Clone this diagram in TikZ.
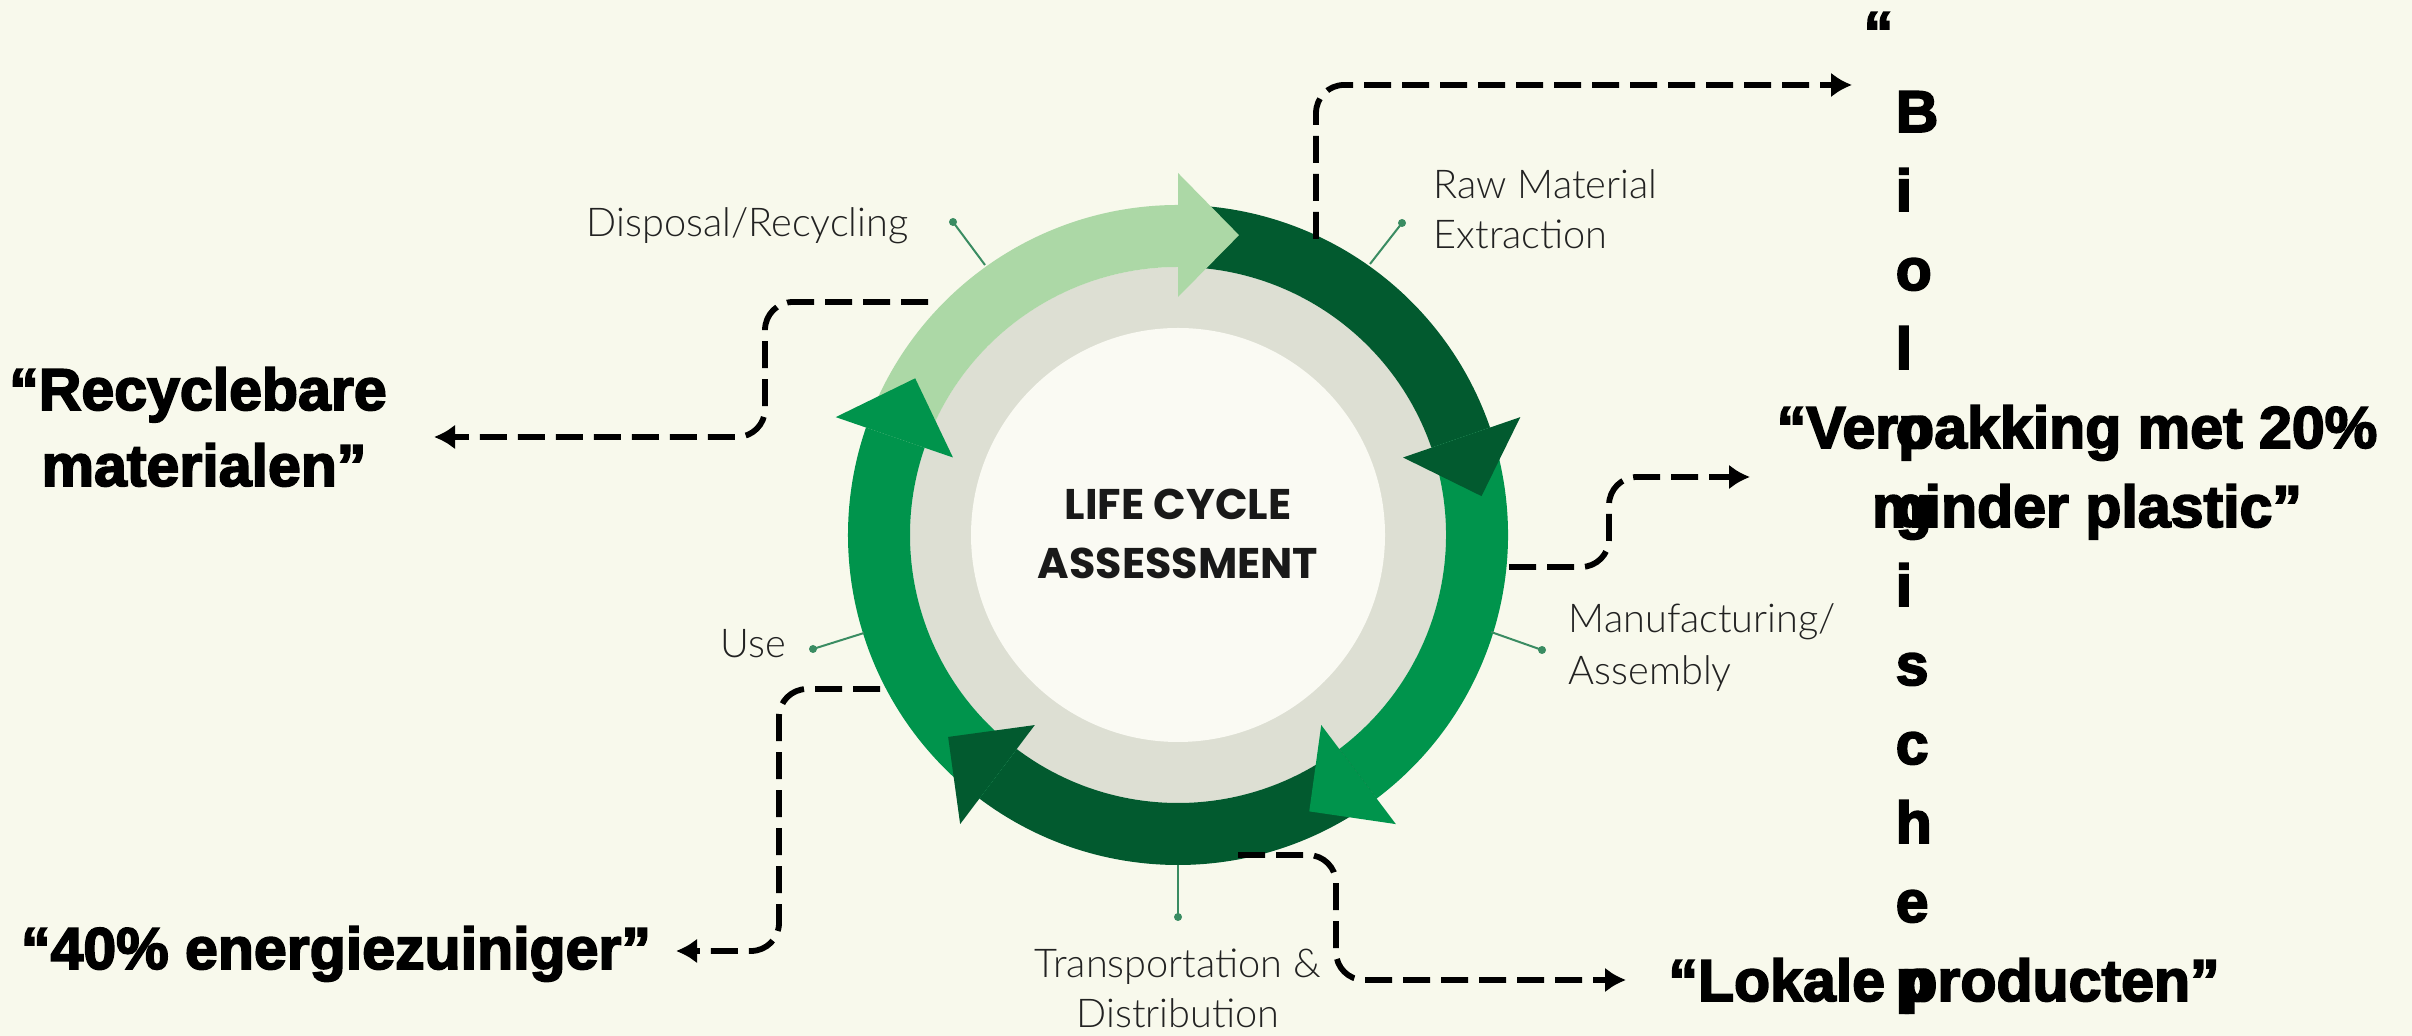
\documentclass[tikz,border=0pt]{standalone}
\usepackage{fontspec}
\usetikzlibrary{arrows.meta,calc}
\newfontfamily\bigfont{Liberation Sans}[BoldFeatures={FakeBold=3}]
\newfontfamily\lblfont{Lato Light}
\newfontfamily\lcafont{Poppins}
\definecolor{bgc}{RGB}{248,249,236}
\definecolor{innerc}{RGB}{250,250,243}
\definecolor{ringc}{RGB}{221,223,211}
\definecolor{lgreen}{RGB}{172,216,166}
\definecolor{dgreen}{RGB}{2,90,47}
\definecolor{mgreen}{RGB}{0,148,76}
\definecolor{leadc}{RGB}{58,140,98}
\definecolor{lblc}{RGB}{34,34,34}
\newcommand\lcaBand[3]{\fill[#1] ($(C)+(#2:330)$) arc[start angle=#2,end angle=#3,radius=330] -- ($(C)+(#3:268)$) arc[start angle=#3,end angle=#2,radius=268] -- cycle;}
\newcommand\lcaHead[3]{\fill[#1] ($(C)+(#2:238)$) -- ($(C)+(#2:362)$) -- ($(C)+(#3:306)$) -- cycle;}
\tikzset{
  bigtxt/.style={font=\bigfont\bfseries\fontsize{16.8pt}{20pt}\selectfont, inner sep=0pt, anchor=base},
  lbl/.style={font=\lblfont\fontsize{11.3pt}{14pt}\selectfont, text=lblc, inner sep=0pt, anchor=base west},
  lcatxt/.style={font=\lcafont\bfseries\fontsize{12.2pt}{15pt}\selectfont, text=black!90, inner sep=0pt, anchor=base},
  lead/.style={draw=leadc, line width=0.2mm},
  conn/.style={draw=black, line width=0.58mm, dash pattern=on 2.7mm off 1.1mm, rounded corners=2.8mm, -{Latex[length=2.1mm,width=2.5mm]}}
}
\begin{document}
\begin{tikzpicture}[x=0.1mm,y=0.1mm]
\useasboundingbox (0,0) rectangle (2412,1036);
\fill[bgc] (0,0) rectangle (2412,1036);
\coordinate (C) at (1178,501);
% rings
\fill[ringc] (C) circle (268);
\fill[innerc] (C) circle (207);
\lcaBand{lgreen}{161}{90}
\lcaBand{dgreen}{90}{19}
\lcaBand{mgreen}{19}{-53}
\lcaBand{dgreen}{-53}{-127}
\lcaBand{mgreen}{-127}{-199}
\lcaHead{lgreen}{90}{78.5}
\lcaHead{dgreen}{19}{7.3}
\lcaHead{mgreen}{-53}{-64.6}
\lcaHead{dgreen}{-127}{-138.7}
\lcaHead{mgreen}{-199}{-210.8}
\node[lcatxt] (lca1) at (1178,516) {LIFE CYCLE};
\node[lcatxt] (lca2) at (1178,457) {ASSESSMENT};
% leaders
\coordinate (rawR) at (1370,772); \coordinate (rawD) at (1402,813);
\coordinate (manR) at (1491,404); \coordinate (manD) at (1542,386);
\coordinate (traR) at (1178,171); \coordinate (traD) at (1178,119);
\coordinate (useR) at (864,403); \coordinate (useD) at (813,387);
\coordinate (disR) at (985,771); \coordinate (disD) at (953,814);
\foreach \r/\d in {rawR/rawD,manR/manD,traR/traD,useR/useD,disR/disD}{
  \draw[lead] (\r) -- (\d);
  \fill[leadc] (\d) circle (4);
}
% labels
\node[lbl] (raw1) at (1433,837) {Raw Material};
\node[lbl] (raw2) at (1433,787) {Extraction};
\node[lbl] (man1) at (1568,403) {Manufacturing/};
\node[lbl] (man2) at (1568,351) {Assembly};
\node[lbl,anchor=base] (tra1) at (1178,58) {Transportation \&};
\node[lbl,anchor=base] (tra2) at (1178,8) {Distribution};
\node[lbl] (use) at (720,378) {Use};
\node[lbl] (dis) at (586,799) {Disposal/Recycling};
% big texts
\node[bigtxt] (rec1) at (198,626) {“Recyclebare};
\node[bigtxt] (rec2) at (204,550) {materialen”};
\node[bigtxt] (ver1) at (2077,588) {“Verpakking met 20\%};
\node[bigtxt] (ver2) at (2087,509) {minder plastic”};
\node[bigtxt] (lok) at (1944,35) {“Lokale producten”};
\node[bigtxt] (ene) at (336,67) {“40\% energiezuiniger”};
\node[bigtxt,anchor=base west] (bioq) at (1863,983) {“};
\foreach \ch [count=\i] in {B,i,o,l,o,g,i,s,c,h,e,p}{
  \node[bigtxt,anchor=base west] (bio\i) at (1895,983-79*\i) {\ch};
}
% connectors
\coordinate (c1s) at (1316,797); \coordinate (c1e) at (1852,951);
\draw[conn] (c1s) |- (c1e);
\coordinate (c2s) at (1509,469); \coordinate (c2e) at (1750,559);
\draw[conn] (c2s) -- (1609,469) -- (1609,559) -- (c2e);
\coordinate (c3s) at (928,734); \coordinate (c3e) at (434,599);
\draw[conn] (c3s) -- (765,734) -- (765,599) -- (c3e);
\coordinate (c4s) at (880,347); \coordinate (c4e) at (676,85);
\draw[conn] (c4s) -- (779,347) -- (779,85) -- (c4e);
\coordinate (c5s) at (1238,181); \coordinate (c5e) at (1626,56);
\draw[conn] (c5s) -- (1336,181) -- (1336,56) -- (c5e);
\end{tikzpicture}
\end{document}
